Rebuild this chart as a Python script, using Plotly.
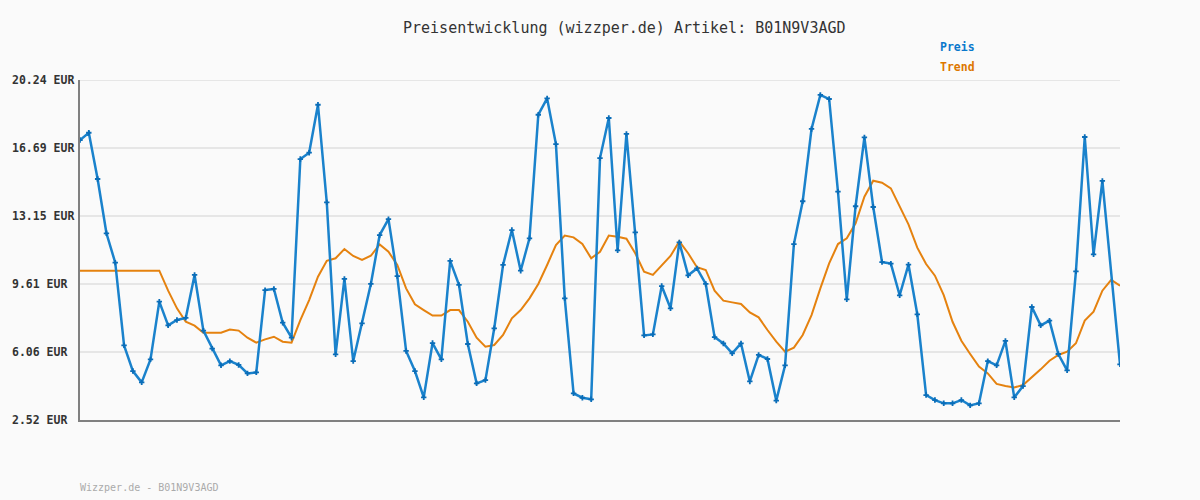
import plotly.graph_objects as go

title_text = "Preisentwicklung (wizzper.de) Artikel: B01N9V3AGD"
footer_text = "Wizzper.de - B01N9V3AGD"
series_names = ["Preis", "Trend"]

tick_values = [2.52, 6.06, 9.61, 13.15, 16.69, 20.24]
tick_labels = ["2.52 EUR", "6.06 EUR", "9.61 EUR", "13.15 EUR", "16.69 EUR", "20.24 EUR"]

preis = [
    17.11, 17.49, 15.08, 12.25, 10.72, 6.41, 5.07, 4.48, 5.68, 8.69,
    7.45, 7.73, 7.84, 10.08, 7.18, 6.24, 5.37, 5.59, 5.39, 4.95,
    5.00, 9.29, 9.35, 7.59, 6.81, 16.12, 16.45, 18.95, 13.86, 5.94,
    9.87, 5.59, 7.56, 9.61, 12.16, 12.99, 10.02, 6.12, 5.07, 3.70,
    6.53, 5.68, 10.81, 9.56, 6.48, 4.43, 4.60, 7.30, 10.60, 12.42,
    10.30, 11.99, 18.43, 19.28, 16.90, 8.86, 3.91, 3.68, 3.60, 16.17,
    18.26, 11.36, 17.43, 12.30, 6.93, 6.98, 9.50, 8.34, 11.78, 10.06,
    10.42, 9.61, 6.84, 6.51, 5.99, 6.51, 4.53, 5.91, 5.70, 3.53,
    5.37, 11.69, 13.92, 17.69, 19.46, 19.25, 14.42, 8.81, 13.66, 17.25,
    13.62, 10.75, 10.67, 9.02, 10.62, 8.03, 3.82, 3.56, 3.39, 3.39,
    3.56, 3.28, 3.39, 5.59, 5.37, 6.64, 3.70, 4.29, 8.41, 7.45,
    7.70, 5.96, 5.11, 10.27, 17.27, 11.15, 14.98, None, 5.42,
]

trend = [
    10.30, 10.30, 10.30, 10.30, 10.30, 10.30, 10.30, 10.30, 10.30, 10.30,
    9.26, 8.34, 7.64, 7.44, 7.07, 7.07, 7.07, 7.24, 7.18, 6.81,
    6.55, 6.72, 6.86, 6.60, 6.55, 7.73, 8.77, 9.99, 10.82, 10.95,
    11.43, 11.07, 10.86, 11.08, 11.67, 11.29, 10.60, 9.38, 8.55, 8.25,
    7.96, 7.96, 8.25, 8.25, 7.64, 6.81, 6.34, 6.43, 6.95, 7.82,
    8.25, 8.86, 9.61, 10.60, 11.64, 12.13, 12.04, 11.69, 10.95, 11.29,
    12.13, 12.07, 11.97, 11.21, 10.25, 10.08, 10.60, 11.07, 11.83, 11.21,
    10.48, 10.34, 9.26, 8.74, 8.65, 8.57, 8.13, 7.87, 7.21, 6.60,
    6.08, 6.29, 6.95, 7.99, 9.38, 10.68, 11.69, 11.99, 12.77, 14.16,
    14.99, 14.89, 14.59, 13.67, 12.72, 11.50, 10.65, 10.04, 9.03, 7.64,
    6.65, 5.96, 5.30, 4.95, 4.40, 4.29, 4.22, 4.34, 4.74, 5.16,
    5.61, 5.91, 6.08, 6.52, 7.70, 8.17, 9.26, 9.82, 9.52,
]

x_idx = list(range(len(preis)))

BLUE = "#1A82CC"
ORANGE = "#E5820F"
MONO = "DejaVu Sans Mono, Liberation Mono, monospace"

fig = go.Figure()
fig.add_trace(go.Scatter(
    x=x_idx, y=trend, mode="lines", name=series_names[1],
    line=dict(color=ORANGE, width=2), hoverinfo="skip",
))
fig.add_trace(go.Scatter(
    x=x_idx, y=preis, mode="lines+markers", name=series_names[0],
    connectgaps=True,
    line=dict(color=BLUE, width=2.5),
    marker=dict(symbol="cross", size=4.5, color="#0A6DB8"),
))

annotations = []
for v, t in zip(tick_values, tick_labels):
    annotations.append(dict(
        xref="paper", yref="y", x=-70 / 1040, y=v, xanchor="left", yanchor="middle",
        text="<b>" + t + "</b>", showarrow=False,
        font=dict(family=MONO, size=11.5, color="#333333"),
    ))

annotations.append(dict(
    xref="paper", yref="paper", x=(624 - 80) / 1040, y=1 + (80 - 28) / 340,
    xanchor="center", yanchor="middle", text=title_text, showarrow=False,
    font=dict(family=MONO, size=15, color="#333333"),
))
annotations.append(dict(
    xref="paper", yref="paper", x=(938 - 80) / 1040, y=1 + (80 - 47) / 340,
    xanchor="left", yanchor="middle", text="<b>" + series_names[0] + "</b>", showarrow=False,
    font=dict(family=MONO, size=11.5, color="#0A78CC"),
))
annotations.append(dict(
    xref="paper", yref="paper", x=(938 - 80) / 1040, y=1 + (80 - 67) / 340,
    xanchor="left", yanchor="middle", text="<b>" + series_names[1] + "</b>", showarrow=False,
    font=dict(family=MONO, size=11.5, color="#DD7700"),
))
annotations.append(dict(
    xref="paper", yref="paper", x=-2 / 1040, y=-(487 - 420) / 340,
    xanchor="left", yanchor="middle", text=footer_text, showarrow=False,
    font=dict(family=MONO, size=10, color="#AAAAAA"),
))

fig.update_layout(
    width=1200, height=500,
    margin=dict(l=80, r=80, t=80, b=80),
    paper_bgcolor="#FAFAFA", plot_bgcolor="#FAFAFA",
    showlegend=False,
    annotations=annotations,
    shapes=[dict(
        type="line", xref="paper", yref="y", x0=0, x1=1,
        y0=tick_values[-1], y1=tick_values[-1],
        line=dict(color="#E6E6E6", width=2), layer="below",
    )],
    xaxis=dict(
        range=[0, len(preis) - 1], showgrid=False, zeroline=False,
        showticklabels=False, ticks="", showline=True, linecolor="#808080", linewidth=2,
        fixedrange=True,
    ),
    yaxis=dict(
        range=[tick_values[0], tick_values[-1]], tickvals=tick_values,
        showticklabels=False, ticks="", showgrid=True, gridcolor="#E6E6E6", gridwidth=2,
        zeroline=False, showline=True, linecolor="#808080", linewidth=2,
        fixedrange=True,
    ),
)

fig.write_html("out.html")
